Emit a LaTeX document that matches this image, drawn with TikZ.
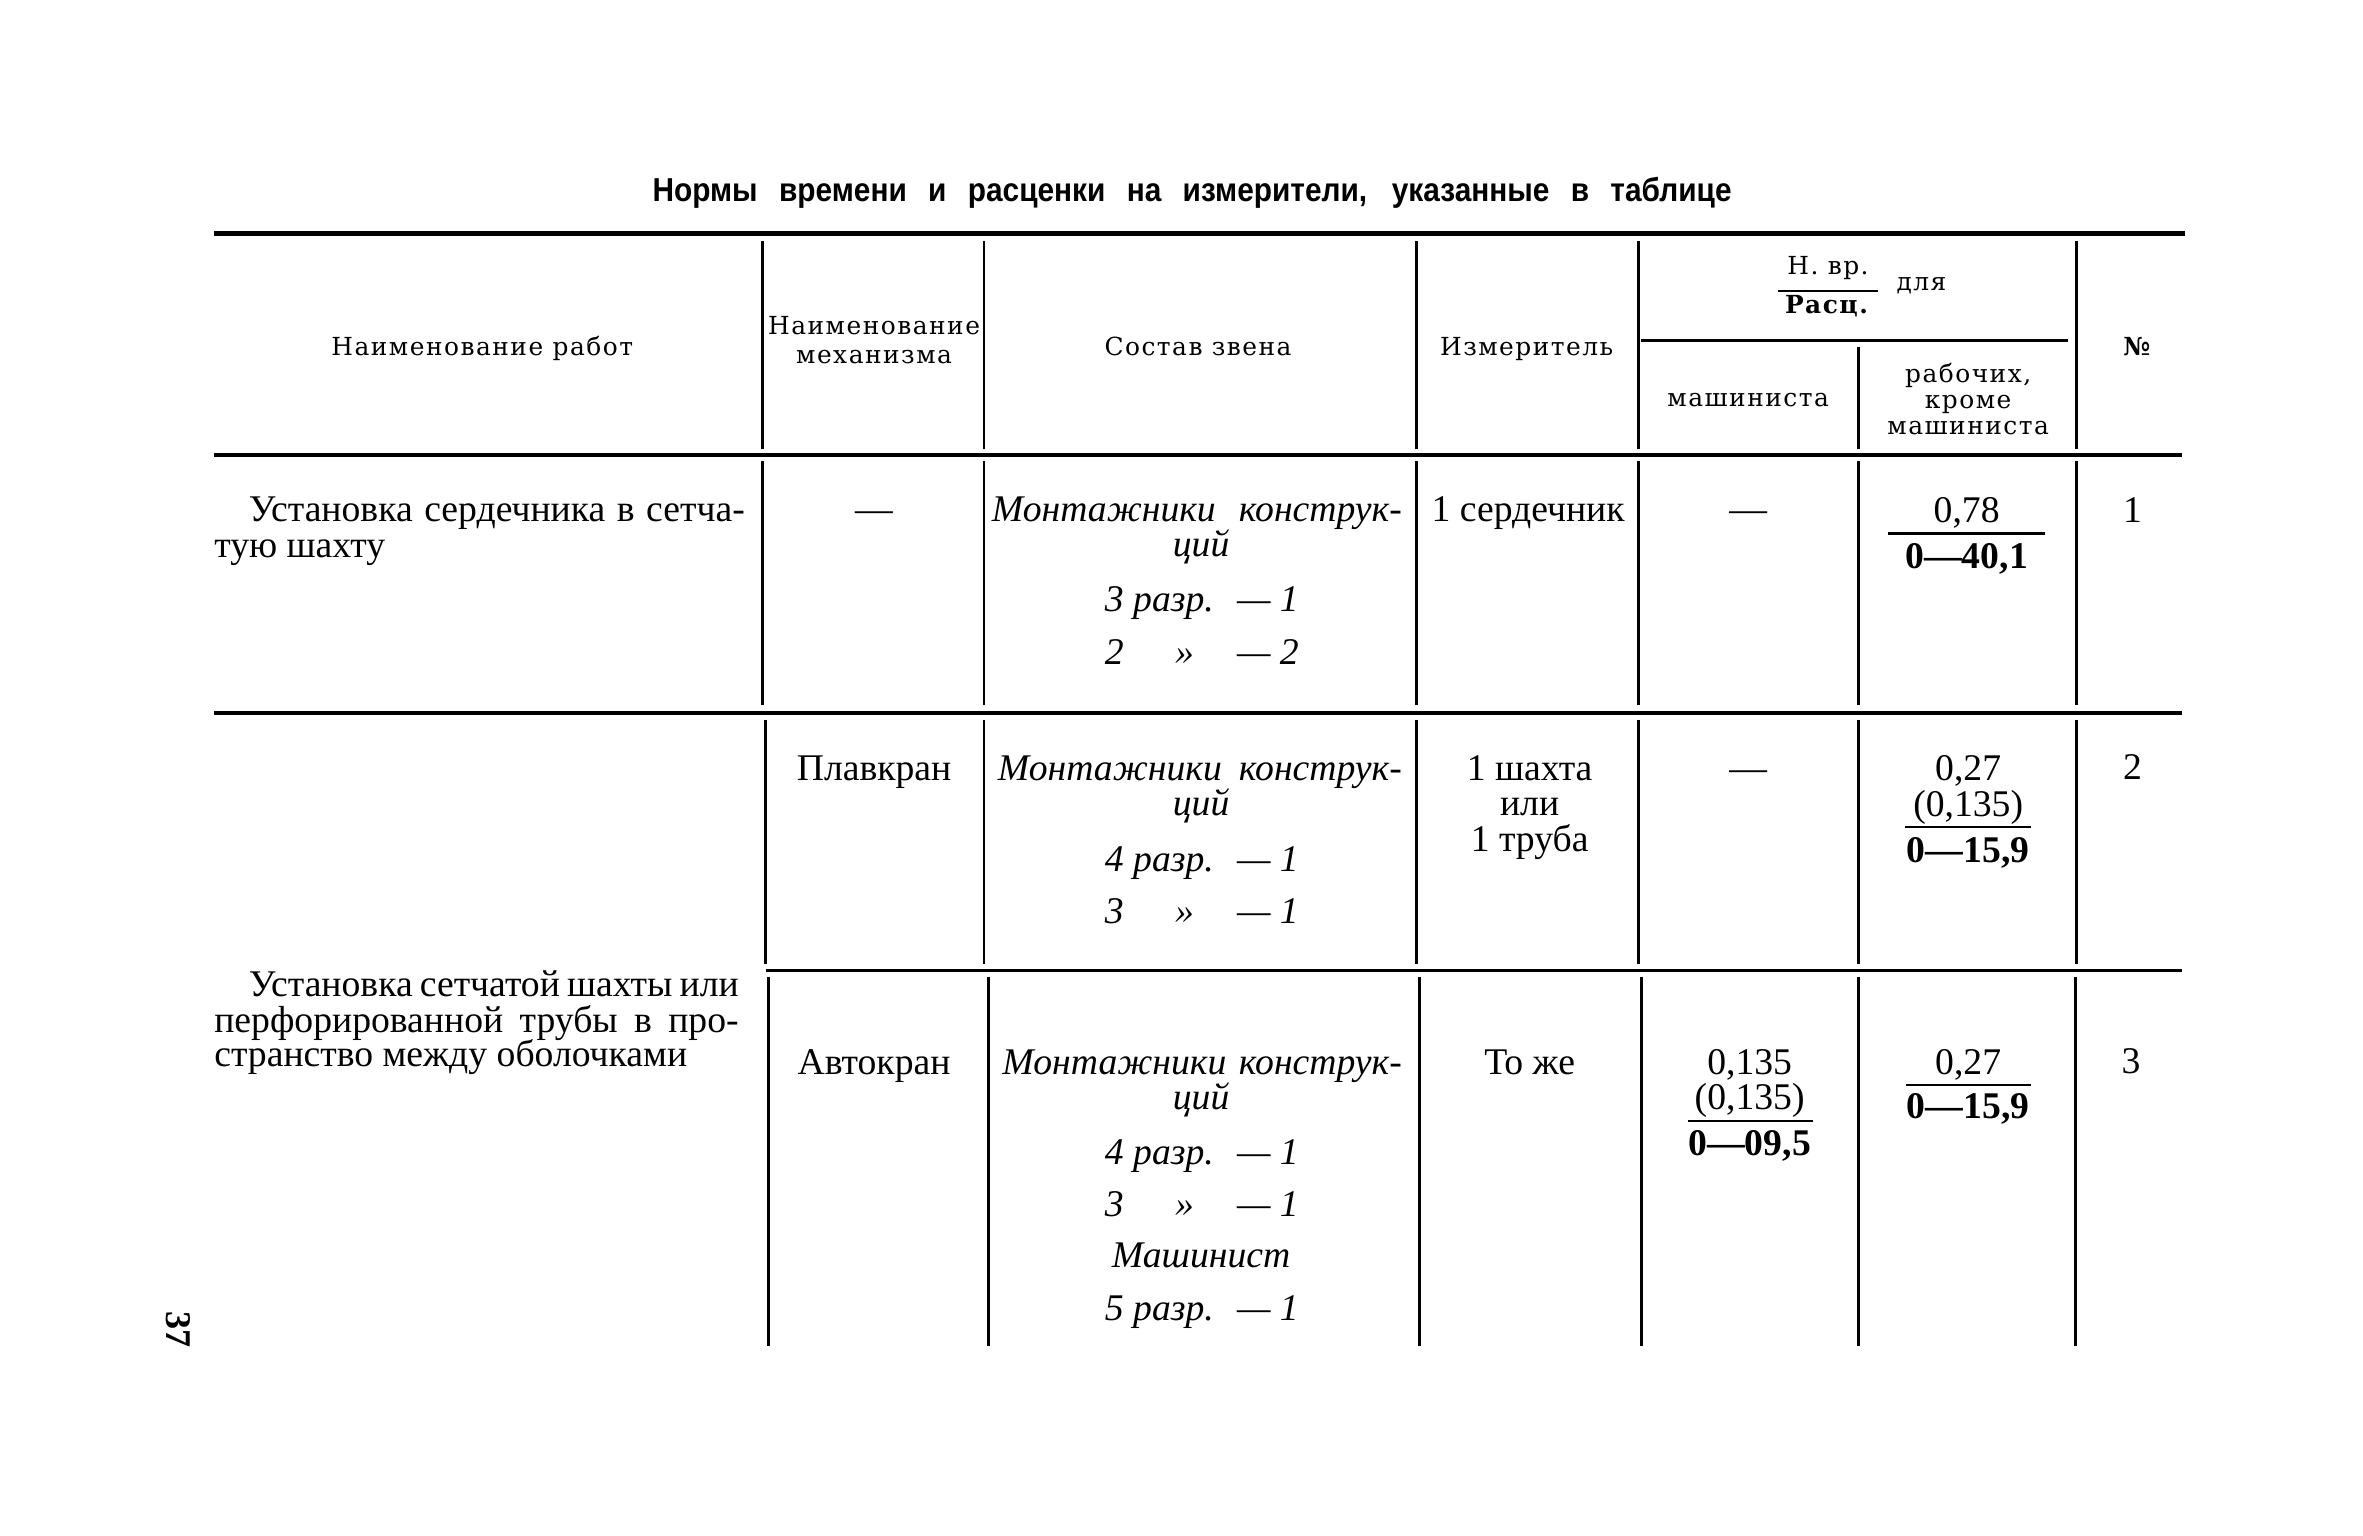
\documentclass[tikz,border=0pt]{standalone}
\usepackage{fontspec}
\setmainfont{Liberation Serif}
\newfontfamily\hdrfont[LetterSpace=6]{DejaVu Serif}
\newfontfamily\hdrbold[LetterSpace=6]{DejaVu Serif Bold}
\newfontfamily\ttlfont[FakeStretch=0.9]{Liberation Sans Bold}
\tikzset{
  rulethick/.style={line width=3pt},
  rulemid/.style={line width=2.4pt},
  rulethin/.style={line width=1.8pt},
  vrule/.style={line width=1.8pt},
  fbar/.style={line width=1.5pt},
  txt/.style={inner sep=0pt, anchor=base, font=\fontsize{25}{24}\selectfont},
  txtw/.style={inner sep=0pt, anchor=base west, font=\fontsize{25}{24}\selectfont},
  txtb/.style={inner sep=0pt, anchor=base, font=\fontsize{25}{24}\selectfont\bfseries},
  itc/.style={inner sep=0pt, anchor=base, font=\fontsize{25}{24}\selectfont\itshape},
  itw/.style={inner sep=0pt, anchor=base west, font=\fontsize{25}{24}\selectfont\itshape},
  ite/.style={inner sep=0pt, anchor=base east, font=\fontsize{25}{24}\selectfont\itshape},
  hd/.style={inner sep=0pt, anchor=base, font=\hdrfont\fontsize{16.5}{17}\selectfont},
  hdb/.style={inner sep=0pt, anchor=base, font=\hdrbold\fontsize{16.5}{17}\selectfont},
  ttl/.style={inner sep=0pt, anchor=base, font=\ttlfont\fontsize{22}{24}\selectfont},
}
\begin{document}
\begin{tikzpicture}[x=1pt,y=-1pt]
\useasboundingbox[fill=white] (0,0) rectangle (1568,1019);

% title
\node[ttl] (title) at (791,134) {\makebox[716pt][s]{Нормы времени и расценки на измерители, указанные в таблице}};

% horizontal rules
\draw[rulethick] (142,155) -- (1450,155);
\draw[rulemid] (142,302) -- (1448,302);
\draw[rulemid] (142,473) -- (1448,473);
\draw[rulemid] (508,644) -- (1448,644);
\draw[rulethin] (1089,226) -- (1372,226);

% vertical rules: header
\foreach \x in {506,653,940,1087,1378} \draw[vrule] (\x,160) -- (\x,298);
\draw[vrule] (1233,230) -- (1233,298);
% row 1
\foreach \x in {506,653,940,1087,1233,1378} \draw[vrule] (\x,306) -- (\x,468);
% row 2
\foreach \x in {508,653,940,1087,1233,1378} \draw[vrule] (\x,478) -- (\x,640);
% row 3
\foreach \x in {510,656,942,1089,1233,1377} \draw[vrule] (\x,648) -- (\x,893);

% header texts
\node[hd] (h1) at (320,236) {Наименование работ};
\node[hd] (h2a) at (580,222) {Наименование};
\node[hd] (h2b) at (580,241) {механизма};
\node[hd] (h3) at (795,236) {Состав звена};
\node[hd] (h4) at (1013,236) {Измеритель};
\node[hd] (h5a) at (1213,182) {Н. вр.};
\draw[fbar] (1180,193) -- (1246,193);
\node[hdb] (h5b) at (1212,208) {Расц.};
\node[hd] (h5c) at (1275,193) {для};
\node[hd] (h6) at (1160,270) {машиниста};
\node[hd] (h7a) at (1306,254) {рабочих,};
\node[hd] (h7b) at (1306,271) {кроме};
\node[hd] (h7c) at (1306,288) {машиниста};
\node[hdb] (h8) at (1418,236) {№};

% row 1
\node[txtw] (r1a) at (165,346) {\makebox[329pt][s]{Установка сердечника в сетча-}};
\node[txtw] (r1b) at (142,370) {тую шахту};
\node[txt] (r1c) at (580,346) {—};
\node[itw] (r1d) at (658,346) {\makebox[272pt][s]{Монтажники конструк-}};
\node[itc] (r1e) at (797,369) {ций};
\node[itw] (r1f) at (733,406) {3 разр.};
\node[ite] (r1g) at (862,406) {— 1};
\node[itw] (r1h) at (733,441) {2};
\node[itc] (r1i) at (786,441) {»};
\node[ite] (r1j) at (862,441) {— 2};
\node[txt] (r1k) at (1014,346) {1 сердечник};
\node[txt] (r1l) at (1160,346) {—};
\node[txt] (r1m) at (1305,347) {0,78};
\draw[fbar] (1253,354) -- (1357,354);
\node[txtb] (r1n) at (1305,377) {0—40,1};
\node[txt] (r1o) at (1415,347) {1};

% rows 2-3 first column
\node[txtw] (c1a) at (165,661) {\makebox[325pt][s]{Установка сетчатой шахты или}};
\node[txtw] (c1b) at (142,685) {\makebox[348pt][s]{перфорированной трубы в про-}};
\node[txtw] (c1c) at (142,708) {странство между оболочками};

% row 2
\node[txt] (r2a) at (580,518) {Плавкран};
\node[itw] (r2b) at (662,518) {\makebox[268pt][s]{Монтажники конструк-}};
\node[itc] (r2c) at (797,541) {ций};
\node[itw] (r2d) at (733,578) {4 разр.};
\node[ite] (r2e) at (862,578) {— 1};
\node[itw] (r2f) at (733,613) {3};
\node[itc] (r2g) at (786,613) {»};
\node[ite] (r2h) at (862,613) {— 1};
\node[txt] (r2i) at (1015,518) {1 шахта};
\node[txt] (r2j) at (1015,541) {или};
\node[txt] (r2k) at (1015,565) {1 труба};
\node[txt] (r2l) at (1160,518) {—};
\node[txt] (r2m) at (1306,518) {0,27};
\node[txt] (r2n) at (1306,542) {(0,135)};
\draw[fbar] (1264,549) -- (1348,549);
\node[txtb] (r2o) at (1306,572) {0—15,9};
\node[txt] (r2p) at (1415,517) {2};

% row 3
\node[txt] (r3a) at (580,713) {Автокран};
\node[itw] (r3b) at (665,713) {\makebox[265pt][s]{Монтажники конструк-}};
\node[itc] (r3c) at (797,736) {ций};
\node[itw] (r3d) at (733,773) {4 разр.};
\node[ite] (r3e) at (862,773) {— 1};
\node[itw] (r3f) at (733,807) {3};
\node[itc] (r3g) at (786,807) {»};
\node[ite] (r3h) at (862,807) {— 1};
\node[itc] (r3i) at (797,841) {Машинист};
\node[itw] (r3j) at (733,876) {5 разр.};
\node[ite] (r3k) at (862,876) {— 1};
\node[txt] (r3l) at (1015,713) {То же};
\node[txt] (r3m) at (1161,713) {0,135};
\node[txt] (r3n) at (1161,736) {(0,135)};
\draw[fbar] (1120,744) -- (1203,744);
\node[txtb] (r3o) at (1161,767) {0—09,5};
\node[txt] (r3p) at (1306,713) {0,27};
\draw[fbar] (1265,720) -- (1348,720);
\node[txtb] (r3q) at (1306,742) {0—15,9};
\node[txt] (r3r) at (1414,712) {3};

% page number
\node[inner sep=0pt, rotate=-90, font=\fontsize{24}{24}\selectfont\bfseries] (pg) at (118,882) {37};
\end{tikzpicture}
\end{document}
